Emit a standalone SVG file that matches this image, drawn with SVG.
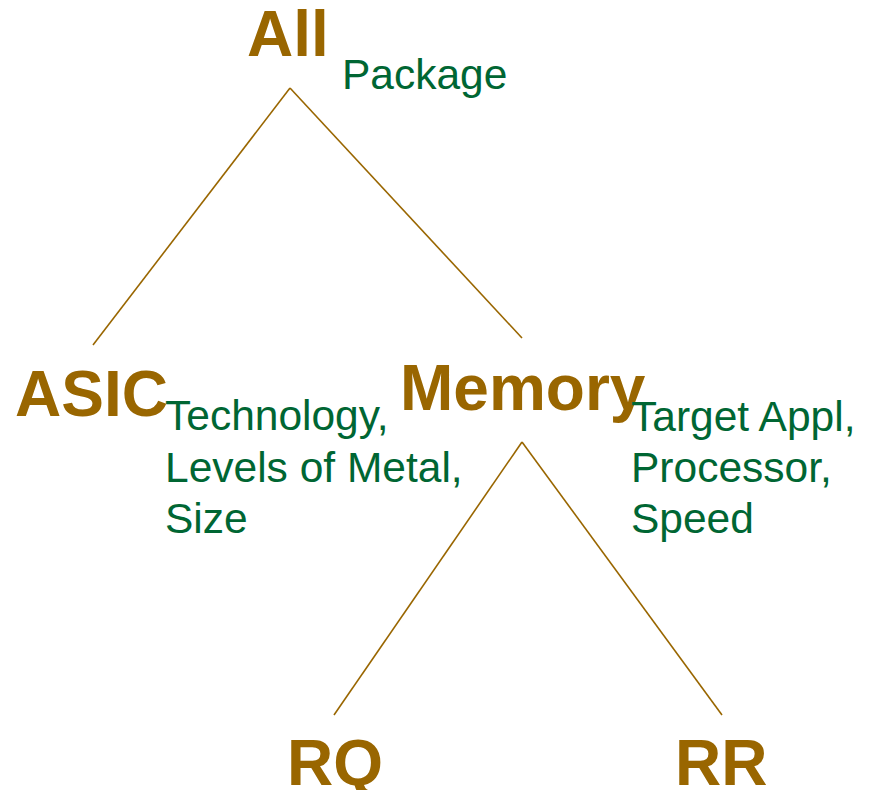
<svg xmlns="http://www.w3.org/2000/svg" width="869" height="790" viewBox="0 0 869 790">
  <style>
    .node { font-family: "Liberation Sans", Arial, sans-serif; font-weight: bold; font-size: 64px; fill: #996600; }
    .attr { font-family: "Liberation Sans", Arial, sans-serif; font-size: 42.5px; fill: #006633; }
    .edge { stroke: #996600; stroke-width: 1.6; fill: none; }
  </style>
  <rect width="869" height="790" fill="#ffffff"/>
  <g id="connectors">
    <line class="edge" x1="290" y1="88" x2="93" y2="345"/>
    <line class="edge" x1="290" y1="88" x2="522" y2="338"/>
    <line class="edge" x1="522" y1="442" x2="334" y2="715"/>
    <line class="edge" x1="522" y1="442" x2="722" y2="715"/>
  </g>
  <g id="all">
    <text class="node" x="247" y="56">All</text>
    <text class="attr" x="342" y="89">Package</text>
  </g>
  <g id="asic">
    <text class="node" x="15" y="416">ASIC</text>
    <text class="attr">
      <tspan x="165" y="430">Technology,</tspan>
      <tspan x="165" y="482">Levels of Metal,</tspan>
      <tspan x="165" y="533">Size</tspan>
    </text>
  </g>
  <g id="memory">
    <text class="node" x="400" y="410">Memory</text>
    <text class="attr">
      <tspan x="631" y="431">Target Appl,</tspan>
      <tspan x="631" y="482">Processor,</tspan>
      <tspan x="631" y="533">Speed</tspan>
    </text>
  </g>
  <g id="rq">
    <text class="node" x="287" y="785">RQ</text>
  </g>
  <g id="rr">
    <text class="node" x="675" y="785">RR</text>
  </g>
</svg>
